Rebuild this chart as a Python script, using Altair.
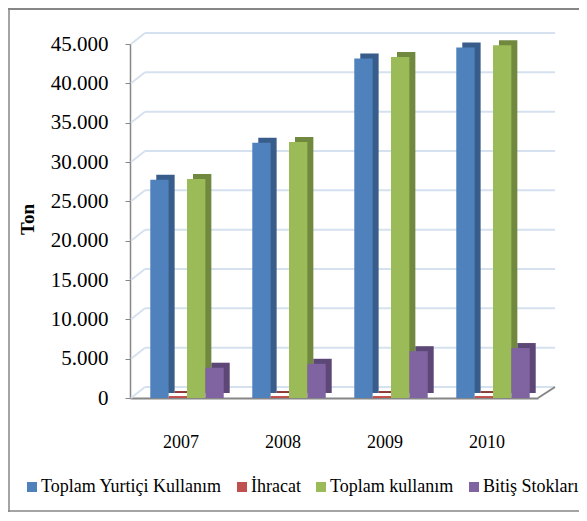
import altair as alt
import pandas as pd

years = ["2007", "2008", "2009", "2010"]
series = ["Toplam Yurtiçi Kullanım", "İhracat", "Toplam kullanım", "Bitiş Stokları"]
yurtici = [27750, 32450, 43150, 44550]
ihracat = [250, 250, 250, 250]
toplam = [27850, 32550, 43350, 44850]
stok = [3850, 4350, 5950, 6350]
y_ticks = [0, 5000, 10000, 15000, 20000, 25000, 30000, 35000, 40000, 45000]

front_colors = ["#4f81bd", "#c0504d", "#9bbb59", "#8064a2"]
side_colors = ["#385d8a", "#8c3836", "#71893f", "#5c4776"]

rows = []
for s, vals in zip(series, [yurtici, ihracat, toplam, stok]):
    for yr, v in zip(years, vals):
        rows.append({"Yıl": yr, "Seri": s, "Ton": v})
df = pd.DataFrame(rows)
ticks_df = pd.DataFrame({"t": y_ticks})

W, H = 408, 354
BW = W / 4 * 0.72
FONT = "Liberation Serif"
GRID = "#d6e1ef"
AXISC = "#868686"

yscale = alt.Scale(domain=[0, 45000], nice=False)
xscale = alt.Scale(paddingInner=0.28, paddingOuter=0.14)

y_axis = alt.Axis(values=y_ticks, grid=False, title="Ton", labelOverlap=False,
                  labelExpr="replace(format(datum.value, ','), ',', '.')",
                  labelFont=FONT, labelFontSize=21, labelColor="#000",
                  tickColor=AXISC, tickSize=5, labelPadding=17,
                  domainColor=AXISC, domainWidth=1.5,
                  titleFont=FONT, titleFontSize=19, titleFontWeight="bold",
                  titleColor="#000", titleAngle=270, titleX=-103, titleY=175,
                  titleAlign="center", titleBaseline="middle")
x_axis = alt.Axis(title=None, labelAngle=0, ticks=False, labelFont=FONT,
                  labelAlign="center", bandPosition=0.5, labelOverlap=False,
                  labelFontSize=18, labelColor="#000", labelPadding=35,
                  domainColor=AXISC, domainWidth=2)

# back wall grid
wall = alt.Chart(ticks_df).mark_rule(color=GRID, strokeWidth=2, yOffset=-11).encode(
    y=alt.Y("t:Q", scale=yscale, axis=y_axis, title="Ton"),
    x=alt.value(15),
    x2=alt.value(W + 17),
)
conn = alt.Chart(ticks_df).mark_rule(color=GRID, strokeWidth=2, y2Offset=-11).encode(
    y=alt.Y("t:Q", scale=yscale, axis=y_axis, title="Ton"),
    y2=alt.Y2("t"),
    x=alt.value(1),
    x2=alt.value(15),
)
floor_diag = alt.Chart(ticks_df.head(1)).mark_rule(color=AXISC, strokeWidth=2).encode(
    x=alt.value(W), x2=alt.value(W + 17), y=alt.value(H), y2=alt.value(H - 11)
)

base = alt.Chart(df)
side = base.mark_bar(yOffset=-5).encode(
    x=alt.X("Yıl:N", scale=xscale, axis=x_axis),
    xOffset=alt.XOffset("Seri:N", sort=series,
                        scale=alt.Scale(domain=series, range=[12, 12 + BW])),
    y=alt.Y("Ton:Q", scale=yscale, axis=y_axis, title="Ton"),
    color=alt.Color("Seri:N", sort=series,
                    scale=alt.Scale(domain=series, range=side_colors), legend=None),
)
front = base.mark_bar().encode(
    x=alt.X("Yıl:N", scale=xscale, axis=x_axis),
    xOffset=alt.XOffset("Seri:N", sort=series,
                        scale=alt.Scale(domain=series, range=[6, 6 + BW])),
    y=alt.Y("Ton:Q", scale=yscale, axis=y_axis, title="Ton"),
    color=alt.Color("Seri:N", sort=series,
                    scale=alt.Scale(domain=series, range=front_colors),
                    legend=alt.Legend(title=None, orient="none", direction="horizontal",
                                      legendX=-107, legendY=434, symbolType="square",
                                      symbolSize=100, symbolStrokeWidth=0,
                                      labelFont=FONT, labelFontSize=18,
                                      labelColor="#000", labelOffset=0,
                                      columnPadding=11, labelLimit=400)),
)

frame_top = alt.Chart(ticks_df.head(1)).mark_rule(color=AXISC, strokeWidth=2).encode(
    x=alt.value(-122), x2=alt.value(W + 41), y=alt.value(-35), y2=alt.value(-35)
)
frame_left = alt.Chart(ticks_df.head(1)).mark_rule(color=AXISC, strokeWidth=1.5).encode(
    x=alt.value(-121), x2=alt.value(-121), y=alt.value(-36), y2=alt.value(H + 114)
)
frame_bot = alt.Chart(ticks_df.head(1)).mark_rule(color=AXISC, strokeWidth=1.5).encode(
    x=alt.value(-122), x2=alt.value(W + 41), y=alt.value(H + 113), y2=alt.value(H + 113)
)

chart = alt.layer(wall, conn, floor_diag, side, front, frame_top, frame_left, frame_bot).resolve_scale(
    color="independent", xOffset="independent"
).resolve_legend(color="independent").properties(
    width=W, height=H,
    autosize=alt.AutoSizeParams(type="none"),
    padding={"left": 122, "top": 36, "right": 41, "bottom": 115},
).configure_view(stroke=None)

chart.save("out.html", embed_options={"renderer": "svg", "actions": False})
